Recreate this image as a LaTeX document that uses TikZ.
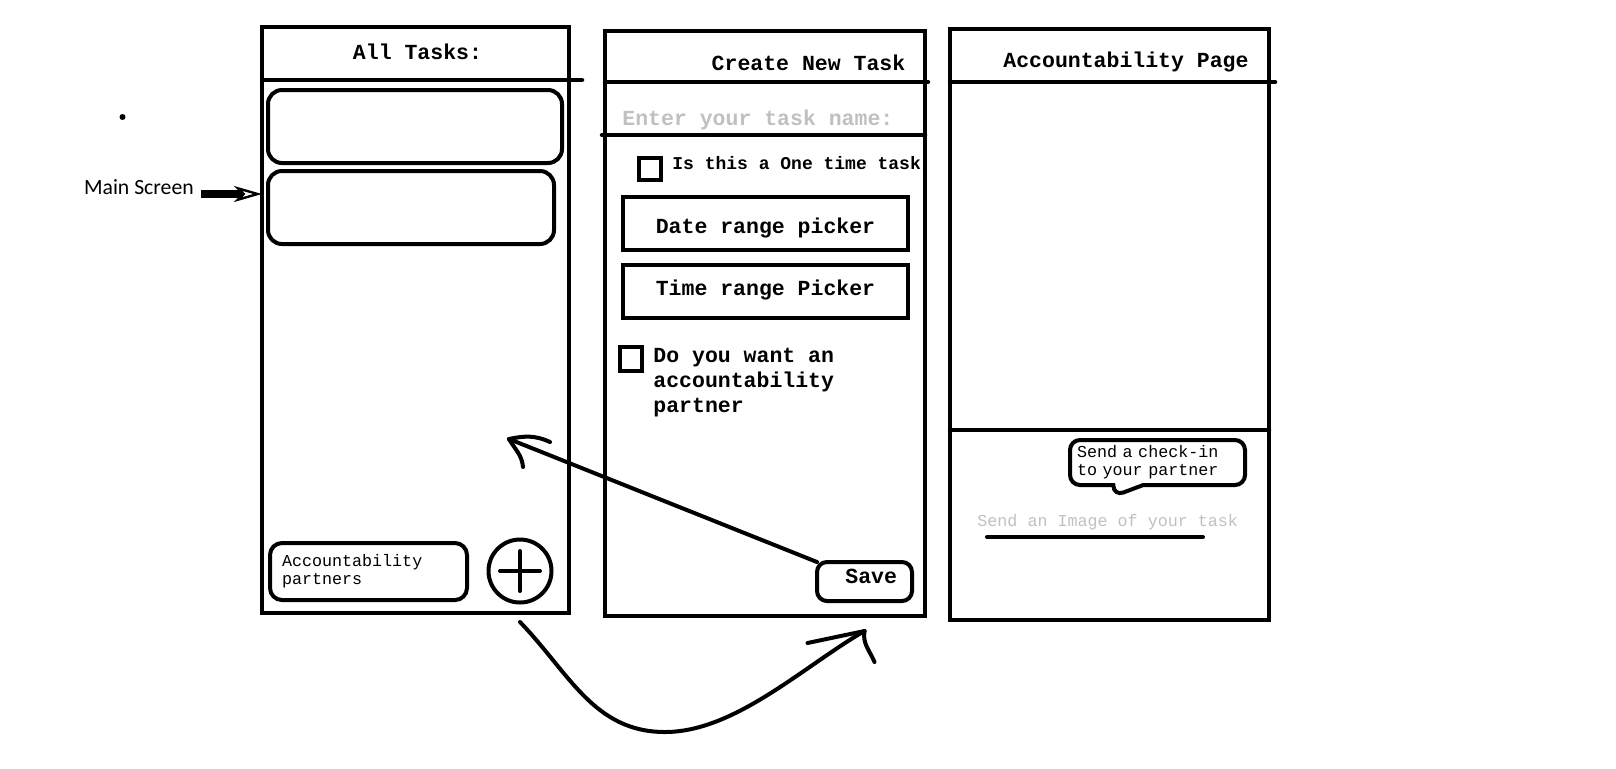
\documentclass[tikz,border=0pt]{standalone}
\usepackage{fontspec}
\setmonofont{Liberation Mono}
\setsansfont{Carlito}
\usetikzlibrary{positioning}
\usetikzlibrary{arrows.meta,shapes}
\usetikzlibrary{shapes.callouts}
\usetikzlibrary{calc}
\definecolor{hintgray}{RGB}{192,192,192}
\newcommand{\bigtt}{\ttfamily\bfseries\fontsize{10.75}{12.5}\selectfont}
\newcommand{\smalltt}{\ttfamily\fontsize{8.35}{9}\selectfont}
\tikzstyle{screen}=[draw,line width=2.25pt,anchor=north west,inner sep=0pt,outer sep=0pt]
\tikzstyle{card}=[draw,line width=2pt,rounded corners=7pt,anchor=north west,inner sep=0pt,outer sep=0pt]
\tikzstyle{picker}=[draw,line width=2pt,anchor=north west,inner sep=0pt,outer sep=0pt,font=\bigtt]
\tikzstyle{tickbox}=[draw,line width=2pt,inner sep=0pt]
\tikzstyle{bar} = [draw,line width=2.25pt,line cap=round]
\tikzstyle{hand} = [draw,line width=2pt,line cap=round]
\tikzstyle{title} = [anchor=base,inner sep=0pt,font=\bigtt]
\tikzstyle{hint} = [anchor=base west,inner sep=0pt,text=hintgray]

\begin{document}
\begin{tikzpicture}[x=0.5pt,y=-0.5pt]
  \useasboundingbox (0,0) rectangle (1616,768);
  \def\px{0.5pt}

% Screens
  \foreach \pos/\name/\w/\h in {{(262,27)/allTasks/307/586}, {(605,31)/newTask/320/585}, {(950,29)/accPage/319/591}}
    \node[screen, minimum width=\w*\px, minimum height=\h*\px] (\name) at \pos {};

  % header bars
  \draw[bar] (262,80) -- (582,80);
  \draw[bar] (605,82) -- (928,82);
  \draw[bar] (950,82) -- (1275,82);
  \draw[bar] (602,135) -- (925,135);
  \draw[bar] (950,430) -- (1269,430);

  \node[title] (allTitle) at (417.5,59.5) {All Tasks:};
  \node[title] (newTitle) at (808.5,70) {Create New Task};
  \node[title] (accTitle) at (1126,67) {Accountability Page};

%Screen 1
  \foreach \pos/\name/\w in {{(268,90)/task1/294}, {(268,171)/task2/286}}
    \node[card, minimum width=\w*\px, minimum height=73*\px] (\name) at \pos {};
  \node[card, rounded corners=6pt, minimum width=197*\px, minimum height=57*\px, inner xsep=6pt, text width=86.5pt, align=left, font=\smalltt] (accBtn) at (270,543) {Accountability\\partners};
  \node[circle, draw, line width=2pt, minimum size=63*\px, inner sep=0pt] (plus) at (520,571) {};
  \draw[hand] ([xshift=-10pt]plus.center) -- ([xshift=10pt]plus.center);
  \draw[hand] ([yshift=-10pt]plus.center) -- ([yshift=10pt]plus.center);

  % label
  \node[anchor=base west, font=\sffamily\fontsize{10.85}{13}\selectfont] (mainLbl) at (77,194) {Main Screen};
  \draw[line width=4pt, -{Stealth[open, length=14pt, width=8pt, inset=4pt, line width=1.2pt]}] (mainLbl.base east) -- (mainLbl.base east -| allTasks.west);
  \node[circle, fill, inner sep=0pt, minimum size=3pt] (dot) at (122.5,117) {};

%Screen 2
  \node[hint, font=\bigtt] (nameHint) at (622,125) {Enter your task name:};
  \node[tickbox, minimum size=22*\px] (tick1) at (650,168.5) {};
  \node[anchor=base west, inner sep=0pt, font=\ttfamily\bfseries\fontsize{9}{11}\selectfont] (oneTime) at (672,169) {Is this a One time task};
  \foreach \pos/\name/\label/\dy in {{(623,197)/datePick/Date range picker/-2pt}, {(623,265)/timePick/Time range Picker/1pt}}
    \node[picker, minimum width=285*\px, minimum height=53*\px] (\name) at \pos {\raisebox{\dy}[\height][\depth]{\label}};
  \node[tickbox, minimum width=22*\px, minimum height=24*\px] (tick2) at (631,358.5) {};
  \node[anchor=north west, inner sep=0pt, align=left, font=\bigtt] (partnerAsk) at (653,348) {Do you want an\\accountability\\partner};
  \node[card, rounded corners=5pt, minimum width=95*\px, minimum height=39*\px, inner xsep=7.5pt, text width=32.5pt, align=right, font=\bigtt] (saveBtn) at (817,562) {\raisebox{2.5pt}[\height][\depth]{Save}};

%Screen 3
  \coordinate (tailTip) at (1114,496);
  \node[rectangle callout, draw, line width=2pt, rounded corners=5pt, callout absolute pointer={(tailTip)}, callout pointer width=15pt, minimum width=87.5pt, minimum height=22.5pt, inner xsep=3.5pt, inner ysep=0pt, text width=80.5pt, align=left, font=\smalltt] (checkIn) at (1157.5,462.5) {Send a check-in\\to your partner};
  \node[hint, font=\smalltt] (imgHint) at (977,526) {Send an Image of your task};
  \draw[hand] (987,537) -- (1203,537);

% Flows
  \coordinate (back) at (509,439);
  \coordinate (dip) at (665,732);
  \draw[hand] (saveBtn.north west) -- (back);
  \draw[hand] (back) to[out=12,in=155] ++(41,3);
  \draw[hand] (back) to[out=-60,in=95] ++(14,28);

  \draw[hand] ([yshift=-8.75pt]plus.south) to[out=-46,in=180] (dip) to[out=0,in=210,looseness=0.8] ([yshift=-15pt]saveBtn.south);
  \draw[hand] ([yshift=-15pt]saveBtn.south) -- ++(-57,12);
  \draw[hand] ([yshift=-15pt]saveBtn.south) to[out=-100,in=113] ++(10,31);

\end{tikzpicture}
\end{document}
